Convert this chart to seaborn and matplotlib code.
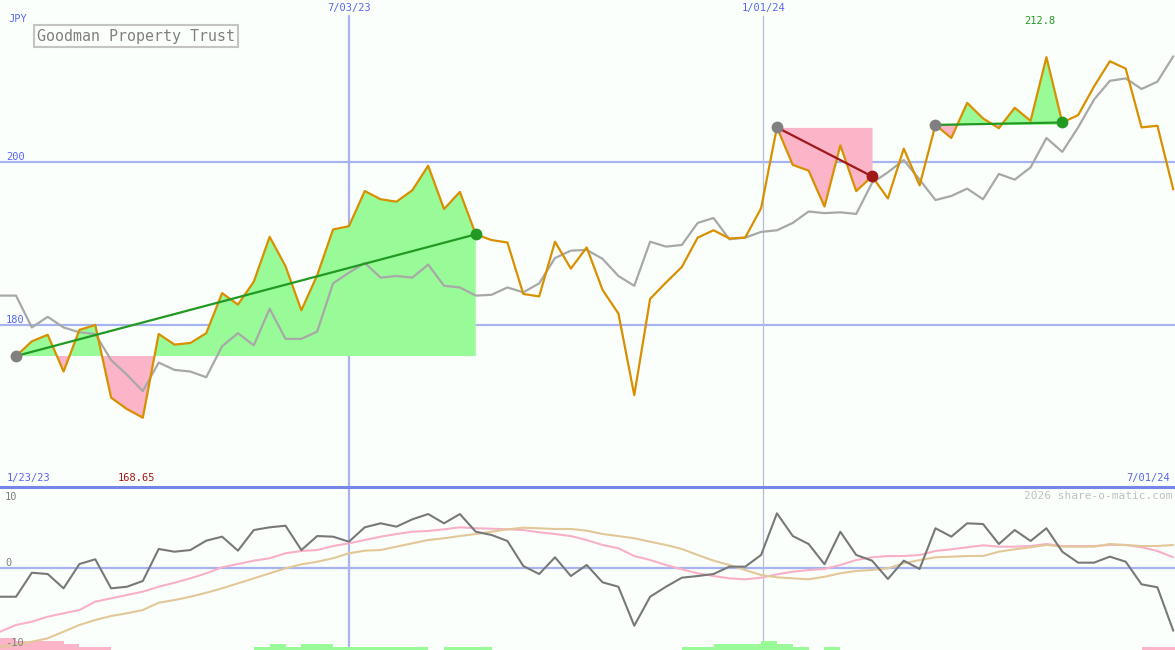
import numpy as np
import pandas as pd
import matplotlib
matplotlib.use('Agg')
import matplotlib.pyplot as plt
import matplotlib.transforms as mtransforms
from matplotlib.lines import Line2D
import seaborn as sns

# weekly closes, index 0 = 1/23/23
price = [176.2, 178.0, 178.8, 174.3, 179.4, 180.0, 171.1, 169.7, 168.65, 178.9,
         177.6, 177.8, 179.0, 183.9, 182.5, 185.3, 190.8, 187.2, 181.8, 186.1,
         191.7, 192.1, 196.4, 195.4, 195.1, 196.5, 199.5, 194.2, 196.3, 191.1,
         190.4, 190.1, 183.8, 183.5, 190.2, 186.9, 189.5, 184.3, 181.4, 171.4,
         183.2, 185.2, 187.1, 190.7, 191.6, 190.6, 190.7, 194.3, 204.2, 199.6,
         198.9, 194.5, 202.0, 196.4, 198.2, 195.5, 201.6, 197.1, 204.5, 202.9,
         207.2, 205.3, 204.1, 206.6, 205.0, 212.8, 204.8, 205.7, 209.2, 212.3,
         211.4, 204.2, 204.4, 196.6]

# comparison index (grey), starts one week earlier
index_line = [183.6, 183.6, 179.7, 181.0, 179.7, 179.1, 178.9, 175.7, 173.9, 171.9, 175.4,
              174.5, 174.3, 173.6, 177.4, 179.0, 177.5, 182.0, 178.3, 178.3, 179.2,
              185.1, 186.4, 187.6, 185.8, 186.0, 185.8, 187.4, 184.8, 184.6, 183.6,
              183.7, 184.6, 184.0, 185.1, 188.2, 189.1, 189.2, 188.1, 186.0, 184.8,
              190.2, 189.6, 189.8, 192.5, 193.1, 190.5, 190.7, 191.4, 191.6, 192.5,
              193.9, 193.7, 193.8, 193.6, 197.4, 198.7, 200.2, 197.8, 195.3, 195.8,
              196.7, 195.4, 198.5, 197.8, 199.3, 202.9, 201.2, 204.2, 207.6, 209.9,
              210.2, 208.9, 209.8, 212.9]

momentum = [-3.63, -3.63, -0.63, -0.79, -2.58, 0.46, 1.05, -2.58, -2.38, -1.66, 2.34,
            2.0, 2.21, 3.38, 3.88, 2.13, 4.71, 5.05, 5.25, 2.21, 3.96,
            3.88, 3.25, 5.05, 5.55, 5.13, 6.05, 6.71, 5.55, 6.71, 4.5,
            4.09, 3.34, 0.21, -0.79, 1.3, -1.04, 0.34, -1.83, -2.38, -7.25,
            -3.63, -2.38, -1.25, -1.04, -0.79, 0.13, 0.13, 1.59, 6.8, 3.96,
            2.96, 0.43, 4.5, 1.59, 0.88, -1.41, 0.88, -0.16, 4.93, 3.88,
            5.55, 5.46, 2.96, 4.71, 3.34, 4.93, 2.0, 0.63, 0.63, 1.38,
            0.75, -2.08, -2.45, -7.88]

fast_avg = [-8.0, -7.16, -6.75, -6.13, -5.7, -5.29, -4.25, -3.83, -3.41, -3.0, -2.38,
            -1.88, -1.33, -0.7, 0.05, 0.46, 0.88, 1.18, 1.8, 2.09, 2.21,
            2.71, 3.05, 3.46, 3.88, 4.21, 4.5, 4.59, 4.8, 5.05, 4.93,
            4.88, 4.8, 4.71, 4.43, 4.21, 3.96, 3.46, 2.84, 2.43, 1.46,
            0.96, 0.34, -0.2, -0.7, -1.04, -1.33, -1.45, -1.25, -0.83, -0.5,
            -0.29, -0.16, 0.34, 0.96, 1.3, 1.46, 1.46, 1.59, 2.09, 2.3,
            2.55, 2.8, 2.63, 2.63, 2.71, 2.96, 2.71, 2.71, 2.71, 2.84,
            2.84, 2.55, 2.09, 1.3]

slow_avg = [-9.88, -9.66, -9.25, -8.83, -8.0, -7.16, -6.54, -6.04, -5.7, -5.29, -4.38,
            -4.04, -3.63, -3.13, -2.58, -1.95, -1.33, -0.7, -0.08, 0.42, 0.75,
            1.18, 1.8, 2.13, 2.21, 2.63, 3.05, 3.46, 3.68, 3.96, 4.21,
            4.5, 4.8, 5.0, 4.93, 4.84, 4.84, 4.63, 4.21, 3.96, 3.68,
            3.25, 2.84, 2.34, 1.59, 0.88, 0.34, -0.29, -0.91, -1.2, -1.33,
            -1.45, -1.13, -0.7, -0.41, -0.29, -0.08, 0.55, 0.96, 1.3, 1.38,
            1.46, 1.46, 2.0, 2.3, 2.55, 2.84, 2.63, 2.63, 2.63, 2.96,
            2.84, 2.71, 2.71, 2.84]

# signal strip at the bottom (+ green, - pink), one per week starting at -1
signal_levels = [-4, -3, -3, -3, -2, -1, -1, 0, 0, 0, 0,
                 0, 0, 0, 0, 0, 1, 2, 1, 2, 2,
                 1, 1, 1, 1, 1, 1, 0, 1, 1, 1,
                 0, 0, 0, 0, 0, 0, 0, 0, 0, 0,
                 0, 0, 1, 1, 2, 2, 2, 3, 2, 1,
                 0, 1, 0, 0, 0, 0, 0, 0, 0, 0,
                 0, 0, 0, 0, 0, 0, 0, 0, 0, 0,
                 0, -1, -1, -1]

# trade runs: start week, end week
runs = [(0, 29), (48, 54), (58, 66)]

date_pos = [21.0, 47.15]
date_labels = ['7/03/23', '1/01/24']
price_ticks = [200, 180]
first_label = '1/23/23'
last_label = '7/01/24'

BG = '#fbfffb'
GRID = '#a8b4f0'
BLUE_TXT = '#5865f0'
ORANGE = '#d89000'
GREEN_FILL = '#98fb98'
PINK_FILL = '#fbb4c8'
UP_COL = '#229922'
DOWN_COL = '#a01818'

sns.set_style('white')
plt.rcParams['font.family'] = ['DejaVu Sans Mono']

x_price = np.arange(len(price))
x_ext = np.arange(-1, len(price))
top_df = pd.DataFrame({'week': x_price, 'price': price})
idx_df = pd.DataFrame({'week': x_ext, 'index': index_line})
osc_df = pd.DataFrame({'week': x_ext, 'mom': momentum, 'fast': fast_avg, 'slow': slow_avg})

fig = plt.figure(figsize=(11.75, 6.5), dpi=100)
fig.patch.set_facecolor(BG)
ax = fig.add_axes([0, 163 / 650, 1, 487 / 650])
ax2 = fig.add_axes([0, 0, 1, 163 / 650])
xlim = (-1.01, 73.11)
for a in (ax, ax2):
    a.set_facecolor(BG)
    a.set_xlim(*xlim)
    a.set_xticks([])
    a.set_yticks([])
    for s in a.spines.values():
        s.set_visible(False)
ax.set_ylim(160.16, 219.8)
ax2.set_ylim(-10.29, 10.09)

# grid
for v in price_ticks:
    ax.axhline(v, color=GRID, lw=1.6, zorder=1)
ax.axvline(date_pos[0], ymax=1 - 16 / 487, color=GRID, lw=1.6, zorder=1)
ax.axvline(date_pos[1], ymax=1 - 16 / 487, color='#b8bcd8', lw=0.9, zorder=1)
ax2.axvline(date_pos[0], color=GRID, lw=1.6, zorder=1)
ax2.axvline(date_pos[1], color='#b8bcd8', lw=0.9, zorder=1)
ax2.axhline(0, color=GRID, lw=1.6, zorder=1)

# shaded trade runs
p = np.array(price)
for s, e in runs:
    xs = x_price[s:e + 1]
    ys = p[s:e + 1]
    base = p[s]
    ax.fill_between(xs, ys, base, where=ys >= base, interpolate=True,
                    color=GREEN_FILL, lw=0, zorder=2)
    ax.fill_between(xs, ys, base, where=ys <= base, interpolate=True,
                    color=PINK_FILL, lw=0, zorder=2)

sns.lineplot(data=idx_df, x='week', y='index', ax=ax, color='#a8a8a8', lw=1.6, zorder=3)
sns.lineplot(data=top_df, x='week', y='price', ax=ax, color=ORANGE, lw=1.6, zorder=4)

for s, e in runs:
    col = UP_COL if p[e] >= p[s] else DOWN_COL
    ax.plot([s, e], [p[s], p[e]], color=col, lw=1.6, zorder=5)
    ax.plot(s, p[s], 'o', color='#808080', ms=8.5, mec='none', zorder=6)
    ax.plot(e, p[e], 'o', color=col, ms=8.5, mec='none', zorder=6)
ax.set_xlabel('')
ax.set_ylabel('')

# labels
bt = mtransforms.blended_transform_factory(ax.transData, ax.transAxes)
bl = mtransforms.blended_transform_factory(ax.transAxes, ax.transData)
for pos, lab in zip(date_pos, date_labels):
    ax.text(pos, 1 - 8 / 487, lab, transform=bt, ha='center', va='center',
            color=BLUE_TXT, fontsize=7.5)
for v in price_ticks:
    ax.text(6 / 1175, v, str(v), transform=bl, ha='left', va='bottom',
            color=BLUE_TXT, fontsize=7.5)
ax.text(8 / 1175, 1 - 19 / 487, 'JPY', transform=ax.transAxes, ha='left', va='center',
        color=BLUE_TXT, fontsize=7.5)
ax.text(7 / 1175, 9 / 487, first_label, transform=ax.transAxes, ha='left', va='center',
        color=BLUE_TXT, fontsize=7.5)
ax.text(1 - 5 / 1175, 9 / 487, last_label, transform=ax.transAxes, ha='right', va='center',
        color=BLUE_TXT, fontsize=7.5)
imin, imax = int(np.argmin(p)), int(np.argmax(p))
ax.text(imin - 0.4, 9 / 487, f'{p[imin]:g}', transform=bt, ha='center', va='center',
        color=DOWN_COL, fontsize=7.5)
ax.text(imax - 0.4, 1 - 21 / 487, f'{p[imax]:g}', transform=bt, ha='center', va='center',
        color=UP_COL, fontsize=7.5)
ax.text(37 / 1175, 1 - 36 / 487, 'Goodman Property Trust', transform=ax.transAxes,
        ha='left', va='center', color='#808080', fontsize=10.8,
        bbox=dict(boxstyle='square,pad=0.22', fc=BG, ec='#c4c4c4', lw=1.5))

# oscillator panel
sns.lineplot(data=osc_df, x='week', y='fast', ax=ax2, color='#f8b0c8', lw=1.5, zorder=3)
sns.lineplot(data=osc_df, x='week', y='slow', ax=ax2, color='#e2c898', lw=1.5, zorder=3)
sns.lineplot(data=osc_df, x='week', y='mom', ax=ax2, color='#787878', lw=1.5, zorder=4)
lv = np.array(signal_levels)
lo = ax2.get_ylim()[0]
ax2.bar(x_ext, np.abs(lv) * 0.375, width=1, align='edge', bottom=lo,
        color=np.where(lv > 0, GREEN_FILL, PINK_FILL), lw=0, zorder=2)
ax2.set_xlabel('')
ax2.set_ylabel('')
ax2.text(5 / 1175, 1 - 10 / 163, '10', transform=ax2.transAxes, ha='left', va='center',
         color='#808080', fontsize=7.5, zorder=5)
bl2 = mtransforms.blended_transform_factory(ax2.transAxes, ax2.transData)
for v, lab in [(0, '0'), (-10, '-10')]:
    ax2.text(5 / 1175, v, lab, transform=bl2, ha='left', va='bottom',
             color='#808080', fontsize=7.5, zorder=5)
ax2.text(1 - 3 / 1175, 1 - 9 / 163, '2026 share-o-matic.com', transform=ax2.transAxes,
         ha='right', va='center', color='#c0c0c0', fontsize=8)

# panel separator
fig.add_artist(Line2D([0, 1], [163 / 650, 163 / 650], transform=fig.transFigure,
                      color='#7585e8', lw=2.2, zorder=10))

fig.savefig('out.png', dpi=100, facecolor=BG)
